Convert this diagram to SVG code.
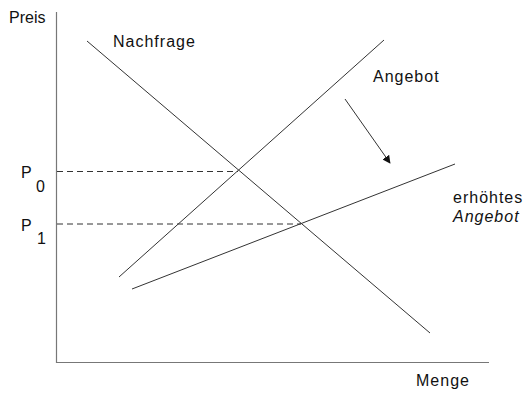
<svg xmlns="http://www.w3.org/2000/svg" width="525" height="395" viewBox="0 0 525 395">
  <style>
    .lbl { font-family: "Liberation Sans", Arial, sans-serif; font-size: 16px; fill: #111; letter-spacing: 1px; }
    .axis { stroke: #777; stroke-width: 1.2; fill: none; }
    .curve { stroke: #333; stroke-width: 1; fill: none; }
    .guide { stroke: #333; stroke-width: 1; stroke-dasharray: 6 4; fill: none; }
  </style>
  <defs>
    <marker id="arrowHead" viewBox="0 0 10 10" refX="9" refY="5" markerWidth="8" markerHeight="8" orient="auto" markerUnits="userSpaceOnUse">
      <path d="M0,0 L10,5 L0,10 z" fill="#111"/>
    </marker>
  </defs>

  <g id="axes">
    <line class="axis" x1="56.5" y1="12" x2="56.5" y2="363"/>
    <line class="axis" x1="56" y1="362.5" x2="489" y2="362.5"/>
    <text class="lbl" x="9" y="23" style="letter-spacing:0">Preis</text>
    <text class="lbl" x="416" y="386">Menge</text>
  </g>

  <g id="connectors">
    <line class="guide" x1="57" y1="171.5" x2="238" y2="171.5"/>
    <line class="guide" x1="57" y1="224" x2="301" y2="224"/>
    <line class="curve" x1="345" y1="99" x2="390" y2="163" marker-end="url(#arrowHead)"/>
  </g>

  <g id="nachfrage">
    <line class="curve" x1="87" y1="41" x2="430" y2="333"/>
    <text class="lbl" x="113" y="47">Nachfrage</text>
  </g>

  <g id="angebot">
    <line class="curve" x1="119" y1="277" x2="384" y2="40"/>
    <text class="lbl" x="373" y="82">Angebot</text>
  </g>

  <g id="erhoehtes-angebot">
    <line class="curve" x1="132" y1="289" x2="455" y2="164"/>
    <text class="lbl" x="453" y="203">erhöhtes</text>
    <text class="lbl" x="453" y="222" font-style="italic">Angebot</text>
  </g>

  <g id="p0">
    <text class="lbl" x="21" y="178">P</text>
    <text class="lbl" x="36" y="192">0</text>
  </g>

  <g id="p1">
    <text class="lbl" x="21" y="231">P</text>
    <text class="lbl" x="37" y="244">1</text>
  </g>
</svg>
